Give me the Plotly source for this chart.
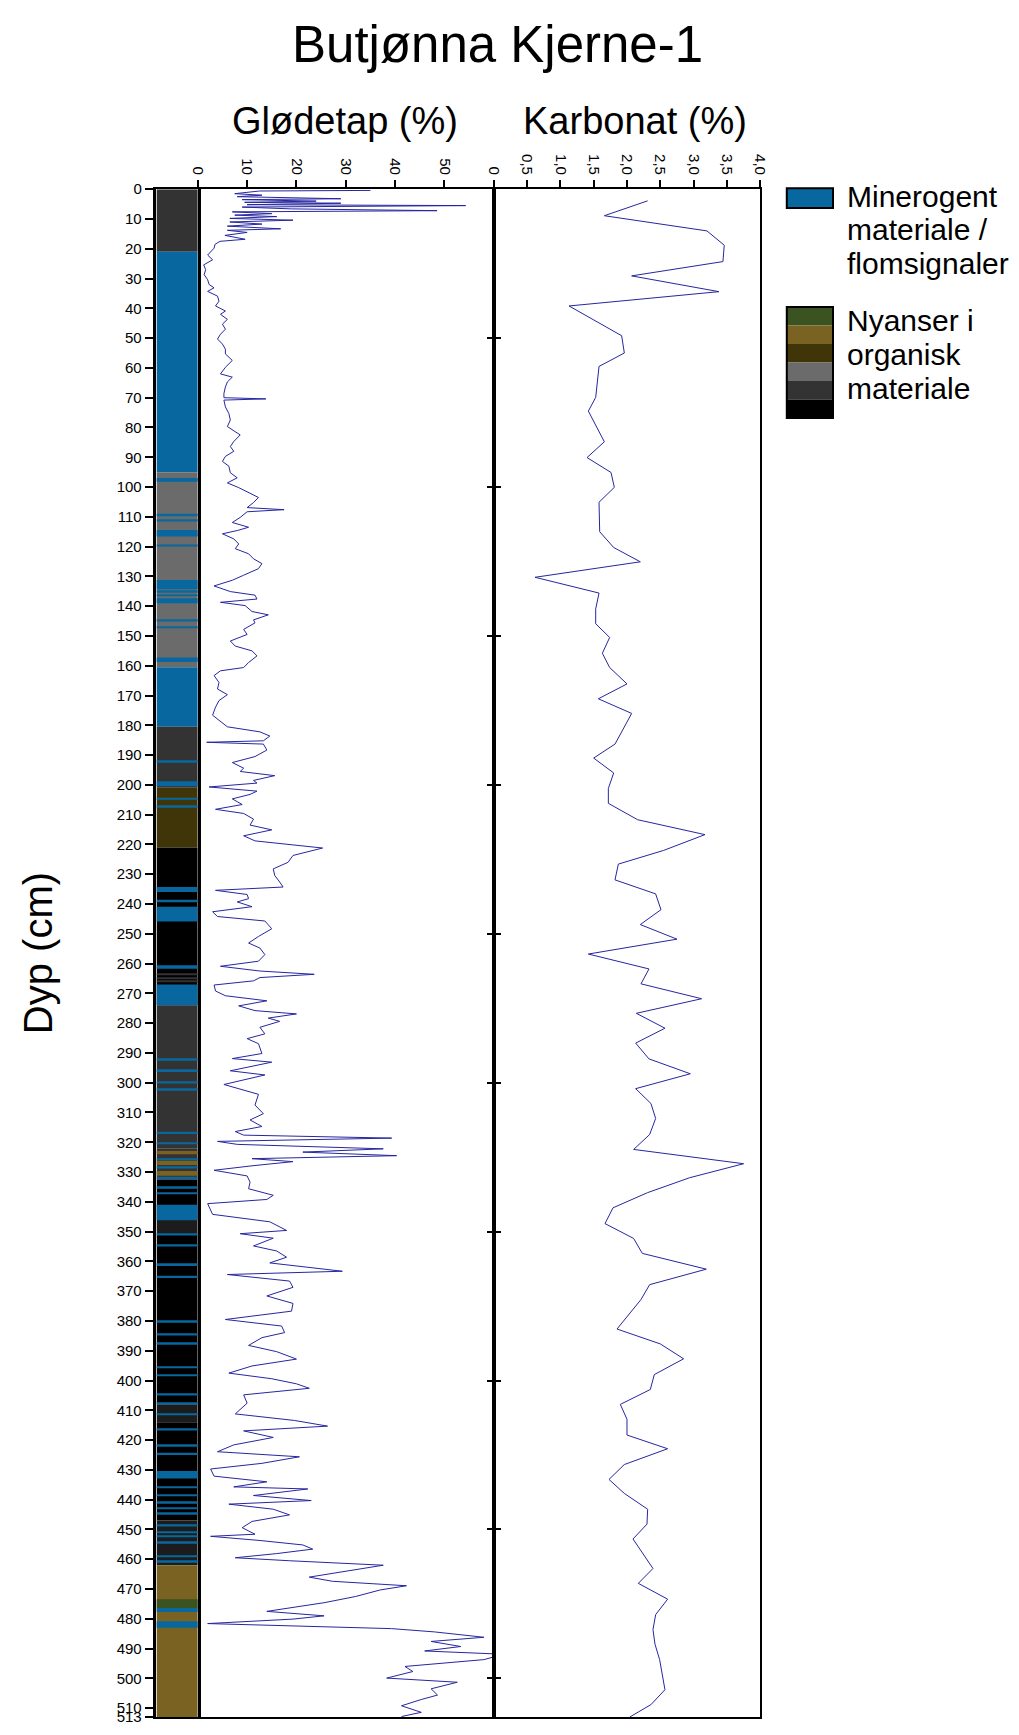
import plotly.graph_objects as go

W, H = 1019, 1735

# ---------------- data ----------------
glodetap_depth = [
    0.4, 0.6, 1.5, 2.0, 2.5, 3.2, 3.5, 4.0, 4.4, 4.7,
    5.2, 5.5, 6.0, 6.6, 7.2, 7.6, 8.2, 8.7, 9.2, 9.8,
    10.4, 11.0, 11.7, 12.4, 13.3, 13.8, 14.5, 15.5, 16.8, 17.5,
    18.5, 19.8, 22.1, 23.7, 25.4, 27.0, 28.7, 30.4, 32.0, 33.1,
    34.3, 35.9, 37.6, 39.2, 40.9, 42.0, 43.7, 45.3, 47.0, 48.7,
    50.3, 52.0, 53.7, 55.3, 57.5, 59.8, 62.0, 63.1, 64.7, 66.4,
    68.6, 70.0, 70.4, 70.8, 73.1, 75.3, 77.5, 79.7, 82.5, 84.7,
    86.4, 88.0, 89.7, 91.4, 93.0, 95.2, 96.9, 98.6, 100.2, 101.9,
    103.5, 105.2, 106.9, 107.6, 108.3, 110.2, 111.9, 113.5, 114.6, 115.7,
    117.4, 119.1, 120.7, 122.4, 124.1, 125.7, 127.4, 129.6, 131.3, 133.2,
    135.1, 136.3, 137.6, 138.7, 139.8, 141.8, 142.9, 144.6, 145.6, 147.8,
    149.5, 151.7, 153.4, 155.0, 156.7, 158.9, 160.6, 161.7, 163.3, 165.6,
    167.8, 169.7, 171.7, 173.9, 176.6, 178.3, 180.5, 182.2, 183.6, 185.2,
    185.7, 186.3, 188.3, 190.5, 192.5, 194.4, 195.5, 196.9, 198.5, 199.4,
    200.7, 202.1, 203.2, 204.7, 206.6, 208.2, 209.6, 211.5, 213.5, 215.1,
    217.1, 218.8, 221.2, 223.7, 226.0, 228.2, 230.4, 232.6, 234.3, 235.4,
    236.8, 238.2, 239.3, 240.9, 242.6, 244.2, 245.7, 247.0, 248.3, 250.9,
    253.1, 254.8, 257.0, 259.2, 260.9, 262.5, 263.6, 264.7, 265.8, 267.2,
    269.2, 270.8, 272.5, 274.2, 275.8, 276.9, 278.3, 279.4, 281.4, 283.6,
    285.2, 286.9, 288.6, 290.2, 291.9, 293.1, 296.0, 297.4, 300.6, 303.9,
    307.5, 310.4, 312.5, 314.7, 316.4, 317.6, 318.6, 319.7, 320.7, 322.2,
    323.3, 324.5, 325.5, 326.5, 327.9, 329.4, 331.3, 333.4, 335.6, 337.8,
    339.2, 340.6, 344.2, 346.7, 349.6, 350.7, 352.2, 354.8, 356.5, 358.6,
    360.5, 361.8, 363.3, 364.4, 366.6, 368.7, 371.6, 374.1, 376.7, 379.5,
    381.7, 383.9, 385.6, 388.2, 390.3, 392.8, 395.1, 397.5, 399.4, 401.1,
    402.6, 404.8, 407.6, 411.2, 413.4, 415.3, 416.9, 419.1, 421.6, 423.9,
    425.6, 427.8, 429.7, 432.1, 434.0, 435.7, 436.4, 438.6, 440.3, 441.5,
    443.2, 445.1, 447.3, 449.4, 451.6, 452.3, 453.7, 455.2, 456.6, 458.1,
    459.5, 460.5, 462.0, 466.0, 467.4, 468.9, 470.3, 472.5, 474.6, 477.5,
    479.0, 480.1, 481.6, 483.3, 484.4, 486.2, 487.6, 489.3, 490.8, 491.9,
    493.7, 496.0, 497.7, 499.9, 501.3, 503.5, 505.6, 507.1, 509.2, 511.4,
    512.8,
]
glodetap_value = [
    35, 12.5, 7.5, 13, 8, 29, 9, 24, 9.5, 29,
    10, 54.3, 9, 19, 48.5, 7, 15, 7.5, 16, 6.5,
    19.3, 6.5, 13, 6, 16.8, 6, 10, 5.5, 9.6, 4.5,
    3.5, 3.3, 2.0, 3.0, 1.2, 1.6, 1.3, 2.0, 2.3, 3.3,
    2.0, 4.0, 4.3, 3.6, 5.6, 4.6, 6.0, 5.0, 5.6, 4.6,
    4.0, 5.0, 5.6, 5.6, 7.0, 5.6, 4.6, 7.0, 6.0, 5.6,
    5.3, 5.3, 13.8, 5.3, 5.6, 6.3, 6.6, 6.0, 8.6, 7.3,
    6.6, 7.3, 5.6, 5.0, 6.3, 6.6, 8.0, 6.0, 8.3, 10.3,
    12.3, 11.3, 10.0, 17.5, 10.0, 8.6, 7.0, 10.3, 8.0, 5.0,
    7.3, 8.3, 7.6, 10.3, 11.3, 13.0, 12.3, 9.3, 7.0, 3.3,
    6.6, 11.6, 12.0, 4.6, 9.6, 11.0, 14.3, 11.3, 11.6, 9.3,
    10.0, 6.6, 7.6, 11.0, 12.0, 10.3, 9.3, 4.6, 3.3, 4.3,
    4.0, 6.0, 4.3, 3.6, 3.0, 4.3, 6.0, 12.6, 14.6, 13.3,
    1.8, 13.3, 14.0, 11.6, 7.0, 9.3, 8.6, 15.6, 11.3, 12.0,
    2.3, 12.0, 10.6, 7.0, 9.0, 3.6, 9.3, 11.3, 10.6, 15.0,
    9.3, 11.6, 25.3, 19.3, 18.3, 15.3, 15.6, 16.6, 17.3, 3.6,
    10.0, 10.3, 8.0, 11.0, 3.0, 4.0, 13.6, 14.3, 15.0, 12.3,
    10.3, 12.6, 13.6, 12.3, 4.6, 12.6, 23.6, 12.6, 11.3, 3.3,
    3.6, 5.6, 14.0, 8.3, 11.6, 20.0, 14.3, 16.6, 12.6, 13.6,
    10.0, 12.3, 12.6, 13.0, 7.0, 15.0, 6.6, 13.6, 5.3, 12.3,
    11.6, 13.3, 10.6, 13.0, 7.6, 9.3, 39.3, 4.0, 8.0, 37.6,
    21.3, 40.3, 11.0, 19.3, 11.0, 3.3, 10.0, 10.6, 10.3, 15.3,
    14.0, 2.0, 3.0, 14.6, 18.0, 8.6, 15.3, 11.3, 16.0, 18.0,
    14.6, 21.3, 29.3, 6.0, 18.6, 19.3, 14.0, 19.3, 19.0, 5.6,
    17.0, 17.6, 13.0, 10.3, 16.0, 20.0, 11.0, 6.3, 15.0, 20.0,
    22.6, 9.3, 10.0, 7.6, 19.6, 26.3, 9.3, 15.3, 7.3, 4.0,
    20.6, 13.0, 2.6, 3.3, 14.0, 7.3, 22.3, 11.3, 23.0, 6.3,
    15.3, 18.6, 11.0, 9.0, 11.6, 2.6, 12.6, 21.3, 23.3, 16.0,
    7.6, 18.6, 37.6, 22.6, 27.3, 42.3, 37.0, 32.0, 25.6, 14.0,
    25.6, 19.3, 2.0, 39.3, 48.0, 58.0, 47.3, 53.3, 46.0, 62.0,
    58.0, 42.0, 43.6, 38.3, 52.6, 47.3, 48.6, 45.3, 41.3, 45.3,
    41.3,
]

karbonat_depth = [
    3.9, 8.9, 14.0, 18.8, 24.3, 29.1, 34.4, 39.2, 49.2, 55.0,
    59.5, 69.9, 74.5, 84.8, 90.1, 95.1, 100.1, 105.1, 115.0, 120.3,
    125.1, 130.3, 135.6, 140.9, 145.9, 150.5, 155.8, 160.6, 166.1, 171.1,
    176.0, 186.3, 191.0, 196.0, 201.2, 206.2, 211.7, 216.7, 222.0, 226.6,
    231.9, 236.6, 241.9, 246.9, 251.8, 256.8, 261.8, 266.8, 271.8, 276.7,
    281.7, 286.7, 292.0, 297.0, 302.0, 307.0, 312.0, 317.4, 322.4, 327.2,
    331.9, 336.9, 342.0, 347.3, 352.3, 357.3, 362.6, 367.8, 372.8, 382.7,
    387.7, 392.7, 398.0, 403.0, 408.0, 413.0, 418.3, 422.9, 428.2, 433.2,
    437.9, 443.2, 448.2, 453.2, 463.1, 468.1, 473.4, 478.6, 483.6, 488.5,
    493.7, 503.8, 508.8, 513.0,
]
karbonat_value = [
    2.31, 1.66, 3.20, 3.46, 3.44, 2.07, 3.38, 1.13, 1.92, 1.96,
    1.58, 1.53, 1.42, 1.66, 1.40, 1.76, 1.81, 1.58, 1.59, 1.80,
    2.20, 0.62, 1.58, 1.53, 1.53, 1.74, 1.63, 1.74, 2.00, 1.57,
    2.07, 1.82, 1.50, 1.80, 1.72, 1.72, 2.16, 3.17, 2.55, 1.87,
    1.82, 2.43, 2.51, 2.20, 2.75, 1.42, 2.33, 2.21, 3.12, 2.14,
    2.57, 2.13, 2.33, 2.95, 2.13, 2.36, 2.43, 2.34, 2.10, 3.75,
    2.94, 2.31, 1.79, 1.67, 2.10, 2.23, 3.19, 2.34, 2.21, 1.85,
    2.50, 2.85, 2.41, 2.35, 1.90, 2.00, 2.00, 2.61, 1.96, 1.73,
    1.96, 2.31, 2.30, 2.09, 2.39, 2.17, 2.61, 2.43, 2.39, 2.42,
    2.49, 2.57, 2.36, 2.04,
]

# stratigraphic column: top, base (cm) and unit
strat_top = [
    0, 21, 95, 160.5, 180.5, 201, 221, 274, 322, 332.5,
    346, 351, 408, 414, 447, 462, 473.4,
    263.4, 264.6, 265.6,
    322.9, 326.2, 329.6,
    97.0, 109.0, 110.8, 114.4, 119.3, 131.2, 134.9, 136.0, 137.3, 144.5,
    146.8, 157.2, 192.0, 198.8, 204.3, 206.8, 234.3, 238.6, 240.9, 260.6,
    267.0, 292.0, 295.8, 299.7, 302.1, 316.5, 320.1, 325.4, 328.2, 331.6,
    335.0, 336.8, 341.0, 350.7, 354.4, 360.9, 364.8, 380.0, 384.3, 387.4,
    395.2, 397.9, 404.4, 407.4, 411.0, 416.2, 421.6, 424.2, 430.4, 435.6,
    438.2, 440.8, 442.6, 444.5, 448.4, 450.6, 452.0, 454.2, 458.7, 460.6,
    476.4, 480.8,
]
strat_base = [
    21, 95, 160.5, 180.5, 201, 221, 274, 322, 332.5, 346,
    351, 408, 414, 447, 462, 513, 476.4,
    263.9, 265.0, 266.0,
    324.0, 327.6, 331.2,
    98.2, 109.8, 111.6, 116.6, 120.0, 134.3, 135.5, 136.6, 139.0, 145.1,
    147.4, 158.7, 192.6, 200.5, 205.0, 207.7, 236.0, 239.4, 245.9, 261.7,
    274.0, 292.6, 296.4, 300.3, 302.7, 317.2, 320.7, 326.0, 328.8, 332.4,
    335.6, 337.4, 346.2, 351.3, 355.0, 361.5, 365.6, 380.6, 384.9, 388.0,
    395.8, 398.5, 405.0, 408.0, 411.6, 416.8, 422.2, 425.0, 432.9, 436.2,
    438.8, 441.4, 443.2, 445.1, 449.0, 451.2, 452.6, 454.8, 459.3, 461.2,
    477.7, 483.0,
]
strat_unit = [
    "darkgray", "mineral", "gray", "mineral", "darkgray", "darkbrown", "black", "darkgray", "darkgray", "black",
    "verydark", "black", "verydark", "black", "verydark", "olive", "green",
    "darkgray", "darkgray", "darkgray",
    "olive", "olive", "olive",
] + ["mineral"] * 63

unit_colors = {
    "mineral": "#08679f",
    "green": "#3a5321",
    "olive": "#7a6222",
    "darkbrown": "#3f3509",
    "gray": "#6b6b6b",
    "darkgray": "#333333",
    "verydark": "#1c1c1c",
    "black": "#000000",
}
legend_organic_units = ["green", "olive", "darkbrown", "gray", "darkgray", "black"]

depth_ticks = list(range(0, 511, 10)) + [513]
glodetap_ticks = [0, 10, 20, 30, 40, 50]
karbonat_ticks = [0, 0.5, 1.0, 1.5, 2.0, 2.5, 3.0, 3.5, 4.0]
karbonat_ticktext = ["0", "0,5", "1,0", "1,5", "2,0", "2,5", "3,0", "3,5", "4,0"]
frame_ticks = [50, 100, 150, 200, 250, 300, 350, 400, 450, 500]

title_text = "Butjønna Kjerne-1"
panel_titles = ["Glødetap (%)", "Karbonat (%)"]
ytitle = "Dyp (cm)"
legend_lines_1 = ["Minerogent", "materiale /", "flomsignaler"]
legend_lines_2 = ["Nyanser i", "organisk", "materiale"]

# ---------------- layout helpers ----------------
def px(x):
    return x / W


def py(y):
    return 1 - y / H


SANS = "Liberation Sans, Arial, Helvetica, sans-serif"
LINE = "#2626a0"

ydom = [py(1725), py(182)]

fig = go.Figure()

fig.add_trace(go.Bar(
    x=[0] * len(strat_top),
    base=strat_top,
    y=[b - t for t, b in zip(strat_top, strat_base)],
    width=1,
    marker=dict(color=[unit_colors[u] for u in strat_unit], line=dict(width=0)),
    xaxis="x", yaxis="y", hoverinfo="skip", showlegend=False,
))

fig.add_trace(go.Scatter(
    x=glodetap_value, y=glodetap_depth, mode="lines",
    line=dict(color=LINE, width=1), xaxis="x2", yaxis="y2",
    showlegend=False, hoverinfo="skip",
))

fig.add_trace(go.Scatter(
    x=karbonat_value, y=karbonat_depth, mode="lines",
    line=dict(color=LINE, width=1), xaxis="x3", yaxis="y3",
    showlegend=False, hoverinfo="skip",
))

common_y = dict(domain=ydom, range=[513, 0], showgrid=False, zeroline=False,
                linecolor="black", tickcolor="black")
common_x = dict(showgrid=False, zeroline=False, linecolor="black", tickcolor="black")

fig.update_layout(
    width=W, height=H,
    margin=dict(l=0, r=0, t=0, b=0),
    paper_bgcolor="white", plot_bgcolor="white",
    barmode="overlay", showlegend=False,
    font=dict(family=SANS, color="black"),
    xaxis=dict(domain=[px(151), px(193)], range=[-0.5, 0.5], anchor="y",
               showline=True, linewidth=2, mirror=True, showticklabels=False,
               ticks="", **common_x),
    yaxis=dict(anchor="x", tickvals=depth_ticks, ticks="outside", ticklen=9,
               tickwidth=2, showline=True, linewidth=2.5, mirror=True,
               tickfont=dict(size=15, family=SANS), **common_y),
    xaxis2=dict(domain=[px(193), px(494)], range=[0, 60], anchor="y2", side="top",
                tickvals=glodetap_ticks, ticktext=[str(t) for t in glodetap_ticks],
                ticks="outside", ticklen=7, tickwidth=2, tickangle=90,
                tickfont=dict(size=15, family=SANS),
                showline=True, linewidth=2, mirror=True, **common_x),
    yaxis2=dict(anchor="x2", side="right", tickvals=frame_ticks, ticks="outside",
                ticklen=5, tickwidth=2, showticklabels=False, showline=True,
                linewidth=1.5, **common_y),
    xaxis3=dict(domain=[px(494), px(765)], range=[0, 4], anchor="y3", side="top",
                tickvals=karbonat_ticks, ticktext=karbonat_ticktext,
                ticks="outside", ticklen=7, tickwidth=2, tickangle=90,
                tickfont=dict(size=15, family=SANS),
                showline=True, linewidth=2, mirror=True, **common_x),
    yaxis3=dict(anchor="x3", side="left", tickvals=frame_ticks, ticks="outside",
                ticklen=5, tickwidth=2, showticklabels=False, showline=True,
                linewidth=1.5, mirror=True, **common_y),
)

annotations = [
    dict(text=title_text, x=px(498), y=py(36), font=dict(size=51, family=SANS)),
    dict(text=panel_titles[0], x=px(343), y=py(113), font=dict(size=38, family=SANS)),
    dict(text=panel_titles[1], x=px(638), y=py(113), font=dict(size=38, family=SANS)),
    dict(text=ytitle, x=px(30), y=py(953), textangle=-90, font=dict(size=40, family=SANS)),
]
for i, t in enumerate(legend_lines_1):
    annotations.append(dict(text=t, x=px(851), y=py(189 + 34 * i), xanchor="left",
                            font=dict(size=30, family=SANS)))
for i, t in enumerate(legend_lines_2):
    annotations.append(dict(text=t, x=px(851), y=py(315 + 34 * i), xanchor="left",
                            font=dict(size=30, family=SANS)))
for a in annotations:
    a.setdefault("xanchor", "center")
    a.update(xref="paper", yref="paper", yanchor="middle", showarrow=False)
fig.update_layout(annotations=annotations)

shapes = [dict(type="rect", xref="paper", yref="paper", x0=px(792), x1=px(839),
               y0=py(201), y1=py(181), fillcolor=unit_colors["mineral"],
               line=dict(color="black", width=2))]
band_h = (413 - 301) / len(legend_organic_units)
for i, u in enumerate(legend_organic_units):
    shapes.append(dict(type="rect", xref="paper", yref="paper", x0=px(792), x1=px(839),
                       y0=py(301 + band_h * (i + 1)), y1=py(301 + band_h * i),
                       fillcolor=unit_colors[u], line=dict(width=0)))
shapes.append(dict(type="rect", xref="paper", yref="paper", x0=px(792), x1=px(839),
                   y0=py(413), y1=py(301), line=dict(color="black", width=2)))
fig.update_layout(shapes=shapes)

fig.write_html("out.html")
